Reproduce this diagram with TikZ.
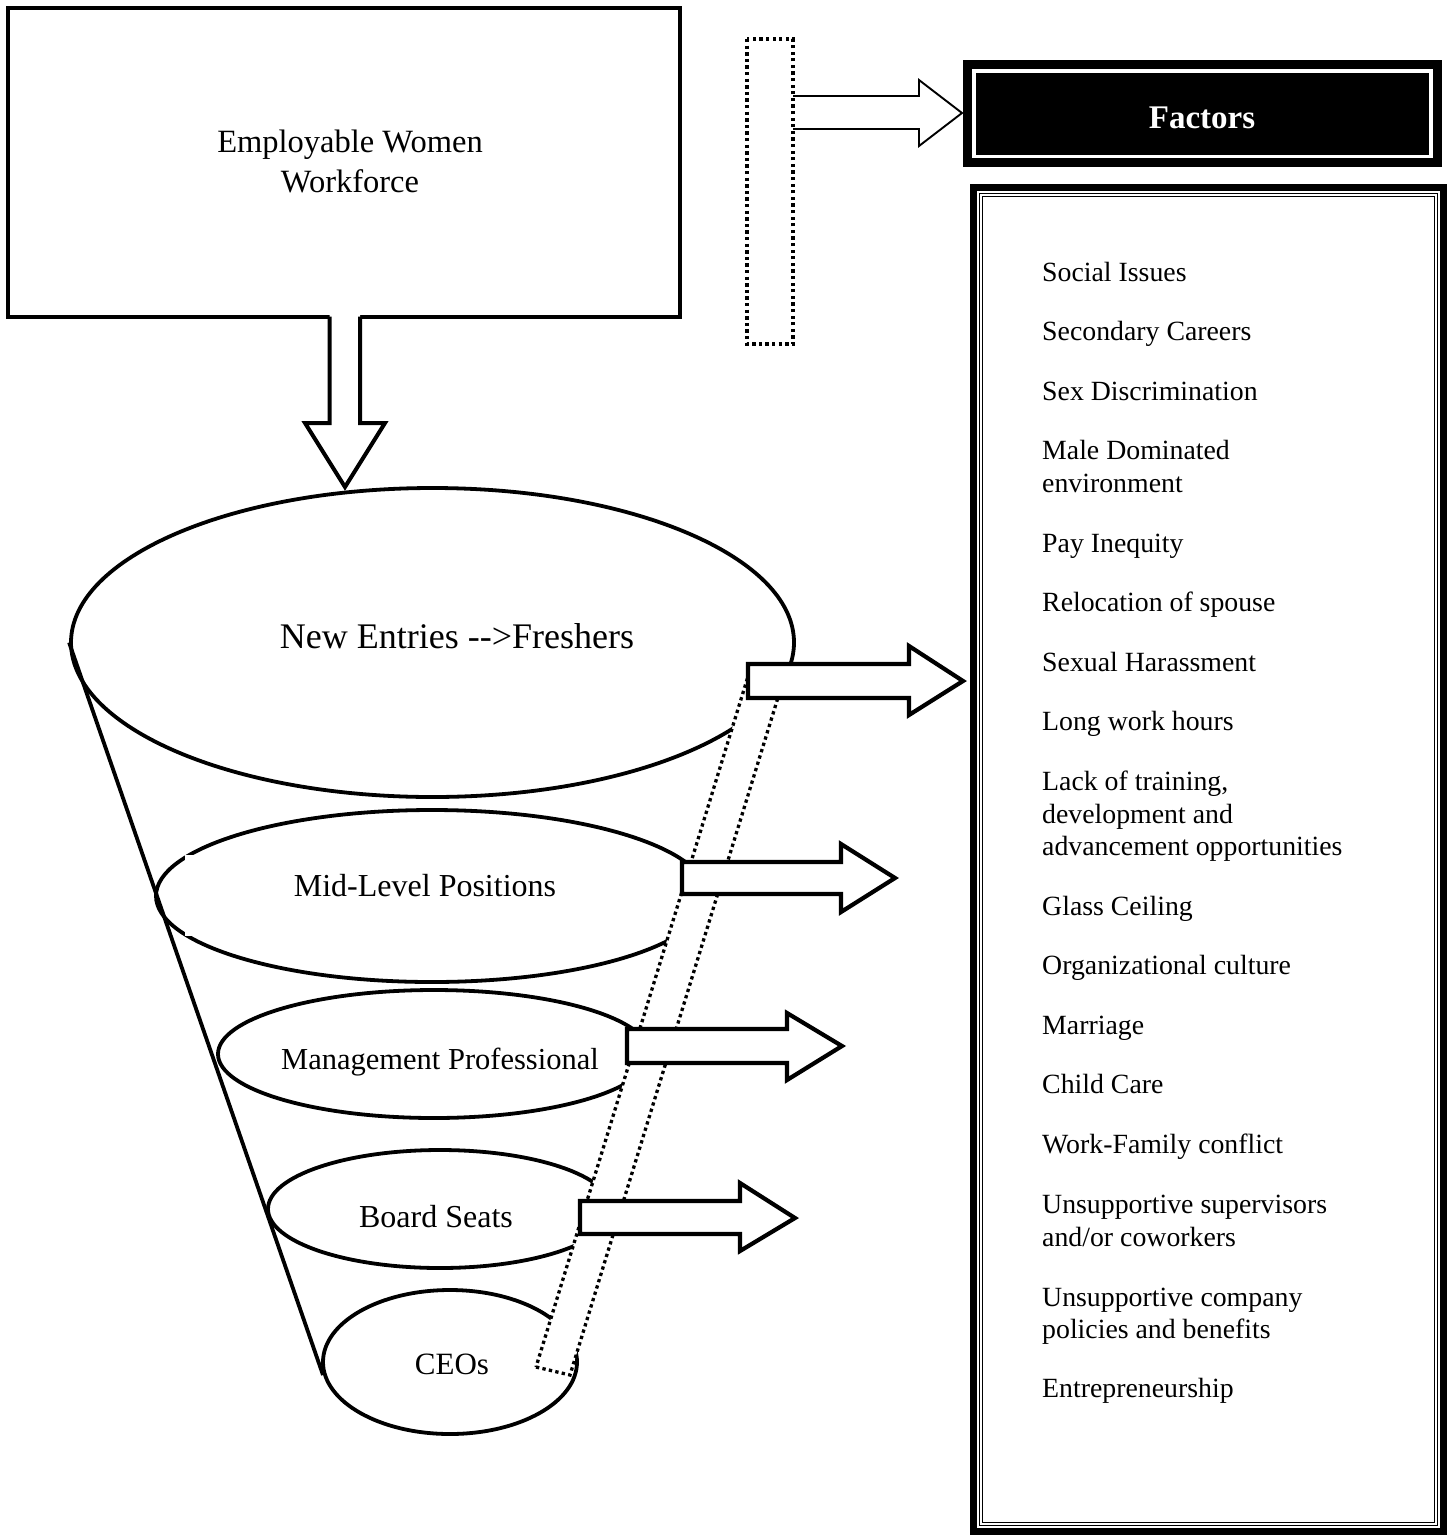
\documentclass[tikz,border=0pt]{standalone}
\usepackage{fontspec}
\setmainfont{Liberation Serif}
\usetikzlibrary{shapes.geometric}
\begin{document}
\begin{tikzpicture}[x=1pt,y=-1pt,
  outline/.style={draw=black, line width=3.8pt},
  oval/.style={ellipse, draw=black, fill=white, line width=3.8pt, inner sep=0pt},
  blockarrow/.style={draw=black, fill=white, line width=4.2pt, line join=miter},
  dotframe/.style={draw=black, line width=3.3pt, dash pattern=on 3.3pt off 3.3pt},
  ftxt/.style={anchor=base, inner sep=0pt},
  item/.style={anchor=base west, inner sep=0pt, font=\fontsize{27.8}{32.5}\selectfont},
]
\useasboundingbox (0,0) rectangle (1450,1535);

% pool of employable women
\node[outline, minimum width=672pt, minimum height=309pt, inner sep=0pt] (pool) at (344,162.5) {};
\node[align=center, inner sep=0pt, font=\fontsize{32.5}{40}\selectfont] (pooltxt) at (350,161) {Employable Women\\Workforce};

% down block arrow
\fill[white] (329.5,314) -- (329.5,423) -- (305,423) -- (345,487) -- (385,423) -- (360,423) -- (360,314) -- cycle;
\draw[line width=4pt, line join=miter] (329.5,316.5) -- (329.5,423) -- (305,423) -- (345,487) -- (385,423) -- (360,423) -- (360,316.5);

% funnel levels
\node[oval, minimum width=723pt, minimum height=309pt] (e1) at (432.5,642.5) {};
\node[oval, minimum width=552pt, minimum height=172pt] (e2) at (432,896) {};
\node[oval, minimum width=432pt, minimum height=128pt] (e3) at (434,1054) {};
\node[oval, minimum width=344pt, minimum height=118pt] (e4) at (440,1209) {};
\node[oval, minimum width=254pt, minimum height=144pt] (e5) at (450,1362) {};
\coordinate (tip) at (323,1375);
\draw[line width=3.8pt] (e1.west) -- (tip);

\fill[white] (185,855) rectangle (665,936);

\node[ftxt, font=\fontsize{36}{40}\selectfont] (t1) at (457,648) {New Entries -{}-{}>Freshers};
\node[ftxt, font=\fontsize{32}{38}\selectfont] (t2) at (425,896) {Mid-Level Positions};
\node[ftxt, font=\fontsize{30.5}{36}\selectfont] (t3) at (440,1069) {Management Professional};
\node[ftxt, font=\fontsize{32}{38}\selectfont] (t4) at (436,1227) {Board Seats};
\node[ftxt, font=\fontsize{31}{38}\selectfont] (t5) at (452,1374) {CEOs};

% slanted dotted band
\draw[dotframe, fill=white] (536,1367) -- (570,1375) -- (784.6,676) -- (750.6,668) -- cycle;

% leaving arrows
\draw[blockarrow] (748,664) -- (909,664) -- (909,646) -- (963,681) -- (909,715) -- (909,698) -- (748,698) -- cycle;
\draw[blockarrow] (682,862) -- (841,862) -- (841,844) -- (895,878) -- (841,912) -- (841,894) -- (682,894) -- cycle;
\draw[blockarrow] (627,1029) -- (787,1029) -- (787,1013) -- (842,1046) -- (787,1080) -- (787,1063) -- (627,1063) -- cycle;
\draw[blockarrow] (580,1201) -- (740,1201) -- (740,1183) -- (795,1218) -- (740,1251) -- (740,1234) -- (580,1234) -- cycle;

% dotted collector and thin arrow
\draw[dotframe] (747,39) rectangle (793,344);
\draw[line width=1.9pt, line join=miter] (793,96) -- (919,96) -- (919,80) -- (962,113) -- (919,146) -- (919,129) -- (793,129);

% Factors header
\node[fill=black, minimum width=479pt, minimum height=107pt, inner sep=0pt] (facbox) at (1202.5,113.5) {};
\draw[white, line width=3.5pt] (974,71) rectangle (1431,156.5);
\node[anchor=base, inner sep=0pt, text=white, font=\bfseries\fontsize{33}{40}\selectfont] (factitle) at (1202,128) {Factors};

% Factors list box
\draw[line width=7pt] (973.5,187.5) rectangle (1443.5,1531.5);
\draw[line width=1.4pt] (979.5,193.5) rectangle (1437.5,1525.5);
\draw[line width=1.4pt] (982.5,196.5) rectangle (1434.5,1522.5);

\node[item] (f1) at (1042,281) {Social Issues};
\node[item] (f2) at (1042,340) {Secondary Careers};
\node[item] (f3) at (1042,400) {Sex Discrimination};
\node[item] (f4a) at (1042,459) {Male Dominated};
\node[item] (f4b) at (1042,492) {environment};
\node[item] (f5) at (1042,552) {Pay Inequity};
\node[item] (f6) at (1042,611) {Relocation of spouse};
\node[item] (f7) at (1042,671) {Sexual Harassment};
\node[item] (f8) at (1042,730) {Long work hours};
\node[item] (f9a) at (1042,790) {Lack of training,};
\node[item] (f9b) at (1042,823) {development and};
\node[item] (f9c) at (1042,855) {advancement opportunities};
\node[item] (f10) at (1042,915) {Glass Ceiling};
\node[item] (f11) at (1042,974) {Organizational culture};
\node[item] (f12) at (1042,1034) {Marriage};
\node[item] (f13) at (1042,1093) {Child Care};
\node[item] (f14) at (1042,1153) {Work-Family conflict};
\node[item] (f15a) at (1042,1213) {Unsupportive supervisors};
\node[item] (f15b) at (1042,1246) {and/or coworkers};
\node[item] (f16a) at (1042,1306) {Unsupportive company};
\node[item] (f16b) at (1042,1338) {policies and benefits};
\node[item] (f17) at (1042,1397) {Entrepreneurship};
\end{tikzpicture}
\end{document}
